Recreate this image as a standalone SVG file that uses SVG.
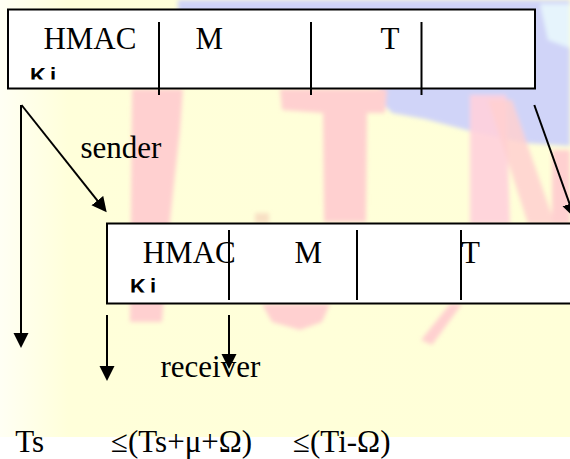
<svg xmlns="http://www.w3.org/2000/svg" width="570" height="459" viewBox="0 0 570 459">
<defs>
<style>
.t{font-family:"Liberation Serif","Times New Roman",serif;font-size:31px;fill:#000}
.k{font-family:"Liberation Sans",Arial,sans-serif;font-weight:bold;font-size:22px;letter-spacing:4px;fill:#000}
.box{fill:#fff;stroke:#000;stroke-width:2}
.div{stroke:#000;stroke-width:2}
.con{stroke:#000;stroke-width:2;fill:none;marker-end:url(#ah)}
.pk{fill:#ffd0d0}
</style>
<marker id="ah" markerWidth="16" markerHeight="16" refX="11" refY="7.5" orient="auto" markerUnits="userSpaceOnUse">
<path d="M0,0 L15,7.5 L0,15 Z" fill="#000"/>
</marker>
<linearGradient id="yg" x1="0" y1="0" x2="1" y2="0">
<stop offset="0" stop-color="#fffff4"/>
<stop offset="0.12" stop-color="#ffffda"/>
<stop offset="1" stop-color="#ffffd8"/>
</linearGradient>
<filter id="soft" x="-5%" y="-5%" width="110%" height="110%"><feGaussianBlur stdDeviation="2"/></filter>
<clipPath id="c1"><rect x="20" y="55" width="60" height="24.5"/></clipPath>
<clipPath id="c2"><rect x="120" y="270" width="60" height="22.5"/></clipPath>
</defs>

<g id="background">
<rect width="570" height="459" fill="#ffffff"/>
<rect width="570" height="437" fill="url(#yg)"/>
<g filter="url(#soft)">
<path d="M178,0 L570,0 L570,146 L525,143 L470,131 L425,119 L392,113 L380,100 L380,60 L178,60 Z" fill="#d0d4f8"/>
<path d="M540,4 L570,4 L570,48 L548,40 Z" fill="#e6f4fc"/>
<path class="pk" d="M132,89 L183,89 L180,130 L170,220 L162,322 L130,322 Z"/>
<path class="pk" d="M280,89 L387,89 L385,113 L367,113 L366,222 L324,222 L323,113 L282,110 Z"/>
<path class="pk" d="M262,304 L330,304 L322,322 L300,330 L272,322 Z"/>
<path d="M470,95 L506,95 L510,224 L470,224 Z" fill="#ffd0dc" opacity="0.9"/>
<path d="M488,100 L512,100 L555,224 L528,224 Z" fill="#ffd0d0" opacity="0.85"/>
<path d="M552,150 L570,150 L570,224 L552,224 Z" fill="#ffd0d0"/>
<path d="M450,304 L462,304 L432,345 L421,340 Z" fill="#ffd0d0"/>
<rect x="255" y="213" width="14" height="10" fill="#f8e0c4"/>
</g>
</g>

<g id="sender-packet">
<rect class="box" x="8" y="9.5" width="527" height="79"/>
<line class="div" x1="159" y1="22" x2="159" y2="95"/>
<line class="div" x1="311" y1="22" x2="311" y2="95"/>
<line class="div" x1="421.5" y1="22" x2="421.5" y2="95"/>
<text class="t" x="43.4" y="48.5">HMAC</text>
<text class="t" x="195.6" y="48.5">M</text>
<text class="t" x="380.5" y="48.5">T</text>
<text class="k" x="30.1" y="82.5" clip-path="url(#c1)">Ki</text>
</g>

<g id="receiver-packet">
<rect class="box" x="107" y="223.5" width="480" height="80"/>
<text class="t" x="142.7" y="263">HMAC</text>
<text class="t" x="294.6" y="263">M</text>
<text class="t" x="461" y="263">T</text>
<line class="div" x1="229" y1="230" x2="229" y2="300"/>
<line class="div" x1="357" y1="230" x2="357" y2="300"/>
<line class="div" x1="461" y1="230" x2="461" y2="300"/>
<text class="k" x="130.1" y="294.1" clip-path="url(#c2)">Ki</text>
</g>

<g id="labels">
<text class="t" x="80.5" y="158">sender</text>
<text class="t" x="160.5" y="377">receiver</text>
<text class="t" x="15.2" y="452">Ts</text>
<text class="t" x="111" y="452">≤(Ts+μ+Ω)</text>
<text class="t" x="293" y="452">≤(Ti-Ω)</text>
</g>

<g id="connectors">
<line class="con" x1="21" y1="105" x2="21" y2="344"/>
<line class="con" x1="21.5" y1="105" x2="104.2" y2="209.2"/>
<line class="con" x1="534.3" y1="105" x2="573.3" y2="214.2"/>
<line class="con" x1="107" y1="315" x2="107" y2="377"/>
<line class="con" x1="229" y1="315" x2="229" y2="365"/>
</g>
</svg>
